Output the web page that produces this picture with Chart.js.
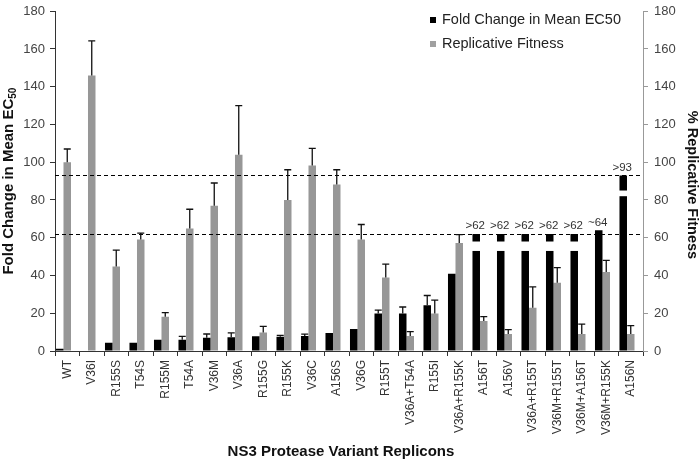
<!DOCTYPE html>
<html>
<head>
<meta charset="utf-8">
<script src="https://cdn.jsdelivr.net/npm/chart.js@4"></script>
<style>
  html, body { margin: 0; padding: 0; background: #fff; }
  #wrap { width: 700px; height: 462px; }
</style>
</head>
<body>
<div id="wrap"><canvas id="chart" width="700" height="462"></canvas></div>
<script>
/* ── Data ───────────────────────────────────── */
const variants = [
  'WT', 'V36I', 'R155S', 'T54S', 'R155M', 'T54A', 'V36M', 'V36A', 'R155G', 'R155K',
  'V36C', 'A156S', 'V36G', 'R155T', 'V36A+T54A', 'R155I', 'V36A+R155K', 'A156T',
  'A156V', 'V36A+R155T', 'V36M+R155T', 'V36M+A156T', 'V36M+R155K', 'A156N'
];

// fold change in mean EC50 (left axis)
const foldChange = [1.2, 0, 4.4, 4.4, 5.9, 5.9, 7, 7.3, 7.8, 7.6, 8, 9.6, 11.7, 19.8, 19.8, 24.2, 40.9, 62, 62, 62, 62, 62, 64, 93];
const foldChangeErr = [null, null, null, null, null, 7.8, 9, 9.6, null, 8.3, 8.9, null, null, 21.6, 23.3, 29.4, null, null, null, null, null, null, null, null];

// % replicative fitness (right axis)
const fitness = [100, 146, 44.7, 59, 18.1, 64.9, 77, 104, 9.8, 80, 98.3, 88.2, 59, 39, 7.9, 19.8, 57.2, 15.9, 9, 22.9, 36.2, 9, 41.9, 9];
const fitnessErr = [107, 164.3, 53.4, 62.4, 20.3, 75.1, 89, 130, 13, 96, 107.3, 96, 67, 46, 10.3, 27, 61.6, 18.2, 11.3, 34, 44.2, 14.2, 48, 13.4];

// axis breaks drawn into the truncated bars
const breakLow  = [null, null, null, null, null, null, null, null, null, null, null, null, null, null, null, null, null, 53, 53, 53, 53, 53, null, 82];
const breakHigh = [null, null, null, null, null, null, null, null, null, null, null, null, null, null, null, null, null, 58, 58, 58, 58, 58, null, 85];
const barNotes  = [null, null, null, null, null, null, null, null, null, null, null, null, null, null, null, null, null, '>62', '>62', '>62', '>62', '>62', '~64', '>93'];

const thresholds = [62, 93];
const yTicks = { min: 0, max: 180, step: 20 };

/* ── Helpers ────────────────────────────────── */
const FONT = 'Arial, "Liberation Sans", Helvetica, sans-serif';
Chart.defaults.font.family = FONT;

function drawErrors(ctx, bars, values, errs, scale) {
  bars.forEach((bar, i) => {
    if (errs[i] == null) return;
    const yBase = scale.getPixelForValue(values[i]);
    const yTop  = scale.getPixelForValue(errs[i]);
    ctx.beginPath();
    ctx.moveTo(bar.x, yBase);
    ctx.lineTo(bar.x, yTop);
    ctx.moveTo(bar.x - 3.5, yTop);
    ctx.lineTo(bar.x + 3.5, yTop);
    ctx.stroke();
  });
}

const overlayPlugin = {
  id: 'overlay',
  afterDatasetsDraw(chart) {
    const { ctx, chartArea, scales } = chart;
    const black = chart.getDatasetMeta(0).data;
    const gray  = chart.getDatasetMeta(1).data;
    ctx.save();

    // broken bars
    ctx.fillStyle = '#fff';
    black.forEach((bar, i) => {
      if (breakLow[i] == null) return;
      const top = scales.y.getPixelForValue(breakHigh[i]);
      const bot = scales.y.getPixelForValue(breakLow[i]);
      ctx.fillRect(bar.x - bar.width / 2 - 1, top, bar.width + 2, bot - top);
    });

    // dashed reference lines
    ctx.strokeStyle = '#000';
    ctx.lineWidth = 1.2;
    ctx.setLineDash([4, 3]);
    thresholds.forEach(v => {
      const yy = Math.round(scales.y.getPixelForValue(v)) + 0.5;
      ctx.beginPath();
      ctx.moveTo(chartArea.left, yy);
      ctx.lineTo(chartArea.right, yy);
      ctx.stroke();
    });
    ctx.setLineDash([]);

    // error bars
    ctx.lineWidth = 1.3;
    ctx.strokeStyle = '#111';
    drawErrors(ctx, black, foldChange, foldChangeErr, scales.y);
    drawErrors(ctx, gray, fitness, fitnessErr, scales.y1);

    // notes above bars
    ctx.fillStyle = '#333';
    ctx.font = '11.5px ' + FONT;
    ctx.textAlign = 'center';
    ctx.textBaseline = 'bottom';
    black.forEach((bar, i) => {
      if (!barNotes[i]) return;
      ctx.fillText(barNotes[i], bar.x - 1, bar.y - 2);
    });
    ctx.restore();
  },
  afterDraw(chart) {
    const { ctx, chartArea } = chart;
    ctx.save();
    ctx.fillStyle = '#111';
    ctx.textBaseline = 'middle';

    // left title with subscript
    const main = 'Fold Change in Mean EC', sub = '50';
    ctx.font = 'bold 15px ' + FONT;
    const wMain = ctx.measureText(main).width;
    ctx.font = 'bold 10px ' + FONT;
    const wSub = ctx.measureText(sub).width;
    ctx.translate(9, (chartArea.top + chartArea.bottom) / 2);
    ctx.rotate(-Math.PI / 2);
    const x0 = -(wMain + wSub) / 2;
    ctx.textAlign = 'left';
    ctx.font = 'bold 15px ' + FONT;
    ctx.fillText(main, x0, 0);
    ctx.font = 'bold 10px ' + FONT;
    ctx.fillText(sub, x0 + wMain, 4);
    ctx.setTransform(1, 0, 0, 1, 0, 0);

    // right title
    ctx.font = 'bold 14.5px ' + FONT;
    ctx.textAlign = 'center';
    ctx.translate(692, 185);
    ctx.rotate(Math.PI / 2);
    ctx.fillText('% Replicative Fitness', 0, 0);
    ctx.setTransform(1, 0, 0, 1, 0, 0);

    // x title
    ctx.font = 'bold 15px ' + FONT;
    ctx.fillText('NS3 Protease Variant Replicons', 341, 452);

    // legend
    ctx.font = '14.5px ' + FONT;
    ctx.textAlign = 'left';
    ctx.fillStyle = '#000';
    ctx.fillRect(430, 17, 6, 6);
    ctx.fillStyle = '#a0a0a0';
    ctx.fillRect(430, 41, 6, 6);
    ctx.fillStyle = '#222';
    ctx.fillText('Fold Change in Mean EC50', 442, 20);
    ctx.fillText('Replicative Fitness', 442, 44);
    ctx.restore();
  }
};

/* ── Chart ──────────────────────────────────── */
new Chart(document.getElementById('chart'), {
  type: 'bar',
  data: {
    labels: variants,
    datasets: [
      {
        label: 'Fold Change in Mean EC50',
        data: foldChange,
        backgroundColor: '#000',
        yAxisID: 'y',
      },
      {
        label: 'Replicative Fitness',
        data: fitness,
        backgroundColor: '#979797',
        yAxisID: 'y1',
      },
      { label: '', data: [], yAxisID: 'y' }   // empty slot: pushes the pair left in each category
    ]
  },
  options: {
    responsive: false,
    animation: false,
    devicePixelRatio: 1,
    categoryPercentage: 0.92,
    barPercentage: 1,
    layout: { padding: 0 },
    plugins: {
      legend: { display: false },
      tooltip: { enabled: false }
    },
    scales: {
      x: {
        grid: { drawOnChartArea: false, tickLength: 5, color: '#333', offset: true },
        border: { color: '#333' },
        ticks: { minRotation: 90, maxRotation: 90, autoSkip: false, padding: 4, color: '#333', font: { size: 12 } },
        afterFit: s => { s.height = 111; }
      },
      y: {
        position: 'left',
        min: yTicks.min, max: yTicks.max,
        ticks: { stepSize: yTicks.step, padding: 5, color: '#444', font: { size: 13, lineHeight: 0.8 } },
        grid: { drawOnChartArea: false, tickLength: 5, color: '#333' },
        border: { color: '#333' },
        afterFit: s => { s.width = 55; }
      },
      y1: {
        position: 'right',
        min: yTicks.min, max: yTicks.max,
        ticks: { stepSize: yTicks.step, padding: 6, color: '#444', font: { size: 13, lineHeight: 0.8 } },
        grid: { drawOnChartArea: false, tickLength: 5, color: '#999' },
        border: { color: '#999' },
        afterFit: s => { s.width = 57; }
      }
    }
  },
  plugins: [overlayPlugin]
});
</script>
</body>
</html>
